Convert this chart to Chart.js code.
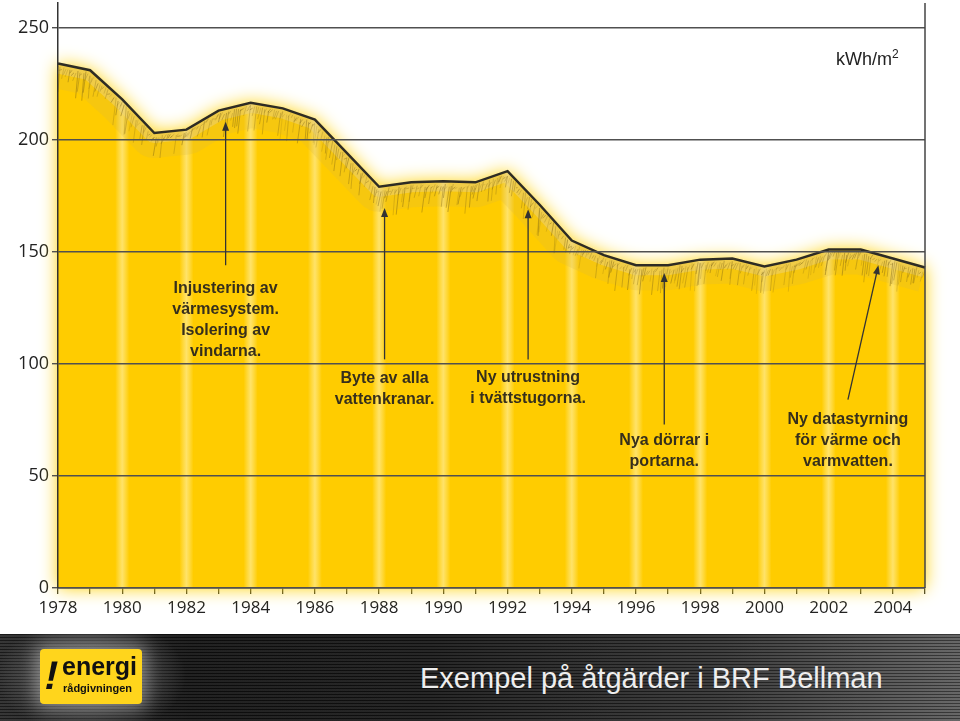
<!DOCTYPE html>
<html>
<head>
<meta charset="utf-8">
<script src="https://cdn.jsdelivr.net/npm/chart.js@4/dist/chart.umd.min.js"></script>
<style>
  body { margin: 0; width: 960px; height: 721px; overflow: hidden; background: #fff; position: relative; }
  #wrap { position: absolute; left: 0; top: 0; width: 960px; height: 634px; }
  #unit { position: absolute; left: 836px; top: 49px; font: 18px "Liberation Sans", Arial, sans-serif; color: #222; }
  #unit sup { font-size: 12px; vertical-align: 7px; line-height: 0; }
  #banner {
    position: absolute; left: 0; top: 634px; width: 960px; height: 87px;
    background:
      radial-gradient(ellipse 95px 60px at 91px 42px, rgba(255,255,255,0.35), rgba(255,255,255,0) 100%),
      repeating-linear-gradient(to bottom, rgba(0,0,0,0.4) 0px, rgba(0,0,0,0.4) 1px, rgba(255,255,255,0.06) 1px, rgba(255,255,255,0.06) 3px),
      linear-gradient(to right, #2a2a2a 0%, #141414 20%, #1a1a1a 45%, #333 75%, #5e5e5e 100%);
  }
  #logo {
    position: absolute; left: 40px; top: 15px; width: 102px; height: 55px;
    background: #ffd51c; border-radius: 4px;
    box-shadow: 0 0 16px 5px rgba(255,255,255,0.3);
    font-family: "Liberation Sans", Arial, sans-serif; color: #111;
  }
  #logo .bang { position: absolute; left: 5px; top: 4px; font: bold 40px "Liberation Sans", Arial, sans-serif; transform: skewX(-12deg); }
  #logo .big { position: absolute; left: 22px; top: 3px; font-weight: bold; font-size: 25px; }
  #logo .small { position: absolute; left: 23px; top: 33px; font-weight: bold; font-size: 11px; }
  #title { position: absolute; left: 420px; top: 30px; font: 29px "Liberation Sans", Arial, sans-serif; color: #eee; line-height: 1; }
</style>
</head>
<body>
<div id="wrap"><canvas id="energyChart" width="960" height="634"></canvas></div>
<div id="unit">kWh/m<sup>2</sup></div>
<div id="banner">
  <div id="logo"><span class="bang">!</span><span class="big">energi</span><span class="small">rådgivningen</span></div>
  <div id="title">Exempel på åtgärder i BRF Bellman</div>
</div>
<script>
// Energiförbrukning per år (kWh/m2)
const years = [1978, 1979, 1980, 1981, 1982, 1983, 1984, 1985, 1986, 1987, 1988, 1989, 1990, 1991,
  1992, 1993, 1994, 1995, 1996, 1997, 1998, 1999, 2000, 2001, 2002, 2003, 2004, 2005];
const usage = [234, 231, 218, 203, 204.5, 213, 216.5, 214, 209, 194, 179, 181, 181.5, 181,
  186, 171, 155, 148.5, 144, 144, 146.5, 147, 143.5, 146.5, 151, 151, 147, 143];
const yTicks = [0, 50, 100, 150, 200, 250];

// annotations: text, arrow tip / tail (year, value), first text line (year, value)
const noteText = [
  ['Injustering av', 'värmesystem.', 'Isolering av', 'vindarna.'],
  ['Byte av alla', 'vattenkranar.'],
  ['Ny utrustning', 'i tvättstugorna.'],
  ['Nya dörrar i', 'portarna.'],
  ['Ny datastyrning', 'för värme och', 'varmvatten.']
];
const noteTipX = [1983.22, 1988.17, 1992.64, 1996.88, 2003.55];
const noteTipY = [208, 169.5, 169, 140.5, 144];
const noteTailX = [1983.22, 1988.17, 1992.64, 1996.88, 2002.6];
const noteTailY = [144, 102, 102, 73, 84];
const noteTextX = [1983.22, 1988.17, 1992.64, 1996.88, 2002.6];
const noteTextY = [133.5, 93.3, 93.7, 65.6, 75];

// pseudo random for pencil strokes (decoration only)
function hash(k) {
  const s = Math.sin(k * 12.9898) * 43758.5453;
  return s - Math.floor(s);
}

const areaFill = {
  id: 'areaFill',
  beforeDatasetsDraw(chart) {
    const ctx = chart.ctx;
    const area = chart.chartArea;
    const x = chart.scales.x, y = chart.scales.y;
    const pts = chart.getDatasetMeta(0).data;
    const base = y.getPixelForValue(0);
    const path = new Path2D();
    path.moveTo(pts[0].x, base);
    pts.forEach(p => path.lineTo(p.x, p.y));
    path.lineTo(pts[pts.length - 1].x, base);
    path.closePath();

    ctx.save();
    ctx.shadowColor = 'rgba(255,208,0,1)';
    ctx.shadowBlur = 18;
    ctx.fillStyle = '#ffcc00';
    ctx.fill(path);
    ctx.shadowBlur = 0;
    ctx.shadowColor = 'rgba(0,0,0,0)';
    ctx.clip(path);

    // light stripes at even years
    years.forEach((yr, i) => {
      if (i === 0 || i % 2) return;
      const cx = x.getPixelForValue(i);
      const g = ctx.createLinearGradient(cx - 7, 0, cx + 7, 0);
      g.addColorStop(0, 'rgba(255,238,160,0)');
      g.addColorStop(0.5, 'rgba(255,234,140,0.75)');
      g.addColorStop(1, 'rgba(255,238,160,0)');
      ctx.fillStyle = g;
      ctx.fillRect(cx - 7, area.top, 14, base - area.top);
    });

    // pencil band under the line
    ctx.lineJoin = 'round';
    ctx.beginPath();
    pts.forEach((p, i) => i ? ctx.lineTo(p.x, p.y) : ctx.moveTo(p.x, p.y));
    ctx.strokeStyle = 'rgba(215,180,70,0.22)';
    ctx.lineWidth = 50;
    ctx.stroke();
    ctx.strokeStyle = 'rgba(232,210,140,0.45)';
    ctx.lineWidth = 20;
    ctx.stroke();

    // hatching strokes
    ctx.lineWidth = 1;
    let k = 0;
    for (let i = 0; i < pts.length - 1; i++) {
      const a = pts[i], b = pts[i + 1];
      for (let px = a.x; px < b.x; px += 2) {
        const t = (px - a.x) / (b.x - a.x);
        const py = a.y + (b.y - a.y) * t;
        const r = hash(k);
        const len = 6 + r * r * 26;
        ctx.strokeStyle = 'rgba(120,95,20,' + (0.15 + 0.3 * hash(k + 500)).toFixed(2) + ')';
        ctx.beginPath();
        ctx.moveTo(px, py + 2 + hash(k + 900) * 4);
        ctx.lineTo(px - 1.5 - hash(k + 300) * 2, py + len);
        ctx.stroke();
        k++;
      }
    }
    ctx.restore();
  },
  afterDraw(chart) {
    const ctx = chart.ctx;
    const area = chart.chartArea;
    const x = chart.scales.x, y = chart.scales.y;

    // right frame line
    ctx.save();
    ctx.strokeStyle = '#444';
    ctx.lineWidth = 1.5;
    ctx.beginPath();
    ctx.moveTo(area.right, area.top);
    ctx.lineTo(area.right, area.bottom);
    ctx.stroke();

    // annotations
    ctx.strokeStyle = '#333';
    ctx.fillStyle = '#333';
    ctx.lineWidth = 1.3;
    noteText.forEach((lines, n) => {
      const tx = x.getPixelForValue(noteTipX[n] - 1978);
      const ty = y.getPixelForValue(noteTipY[n]);
      const sx = x.getPixelForValue(noteTailX[n] - 1978);
      const sy = y.getPixelForValue(noteTailY[n]);
      const ang = Math.atan2(ty - sy, tx - sx);
      ctx.beginPath();
      ctx.moveTo(sx, sy);
      ctx.lineTo(tx - 6 * Math.cos(ang), ty - 6 * Math.sin(ang));
      ctx.stroke();
      ctx.beginPath();
      ctx.moveTo(tx, ty);
      ctx.lineTo(tx - 9 * Math.cos(ang) + 3.5 * Math.sin(ang), ty - 9 * Math.sin(ang) - 3.5 * Math.cos(ang));
      ctx.lineTo(tx - 9 * Math.cos(ang) - 3.5 * Math.sin(ang), ty - 9 * Math.sin(ang) + 3.5 * Math.cos(ang));
      ctx.closePath();
      ctx.fill();

      ctx.save();
      ctx.fillStyle = '#362f1c';
      ctx.font = 'bold 16px "Liberation Sans", Arial, sans-serif';
      ctx.textAlign = 'center';
      ctx.textBaseline = 'middle';
      const cx = x.getPixelForValue(noteTextX[n] - 1978);
      const cy = y.getPixelForValue(noteTextY[n]);
      lines.forEach((s, j) => ctx.fillText(s, cx, cy + j * 21));
      ctx.restore();
    });
    ctx.restore();
  }
};

const ctx = document.getElementById('energyChart').getContext('2d');
new Chart(ctx, {
  type: 'line',
  data: {
    labels: years,
    datasets: [{
      data: usage,
      fill: false,
      borderColor: '#2e2c24',
      borderWidth: 2.5,
      pointRadius: 0,
      tension: 0,
      clip: false
    }]
  },
  options: {
    responsive: false,
    animation: false,
    layout: { padding: { top: 3, right: 35, bottom: 0, left: 0 } },
    plugins: { legend: { display: false }, tooltip: { enabled: false } },
    scales: {
      x: {
        offset: false,
        afterFit: s => { s.height = 46; },
        grid: { drawOnChartArea: false, tickLength: 6, color: '#3a3a30', lineWidth: 1.3 },
        border: { color: '#3a3a30', width: 1.5, z: 1 },
        ticks: {
          autoSkip: false, maxRotation: 0, padding: 4,
          color: '#222', font: { family: '"Open Sans", sans-serif', size: 17 },
          callback: (v, i) => (i % 2 === 0 && i < years.length - 1) ? years[i] : ''
        }
      },
      y: {
        min: 0, max: 261,
        afterFit: s => { s.width = 58; s.paddingTop = 0; s.paddingBottom = 0; },
        afterBuildTicks: s => { s.ticks = yTicks.map(v => ({ value: v })); },
        grid: { color: '#505050', lineWidth: 1.4, tickLength: 6, z: 1 },
        border: { color: '#333', width: 1.5, z: 1 },
        ticks: { padding: 3, color: '#222', font: { family: '"Open Sans", sans-serif', size: 18 } }
      }
    }
  },
  plugins: [areaFill]
});
</script>
</body>
</html>
